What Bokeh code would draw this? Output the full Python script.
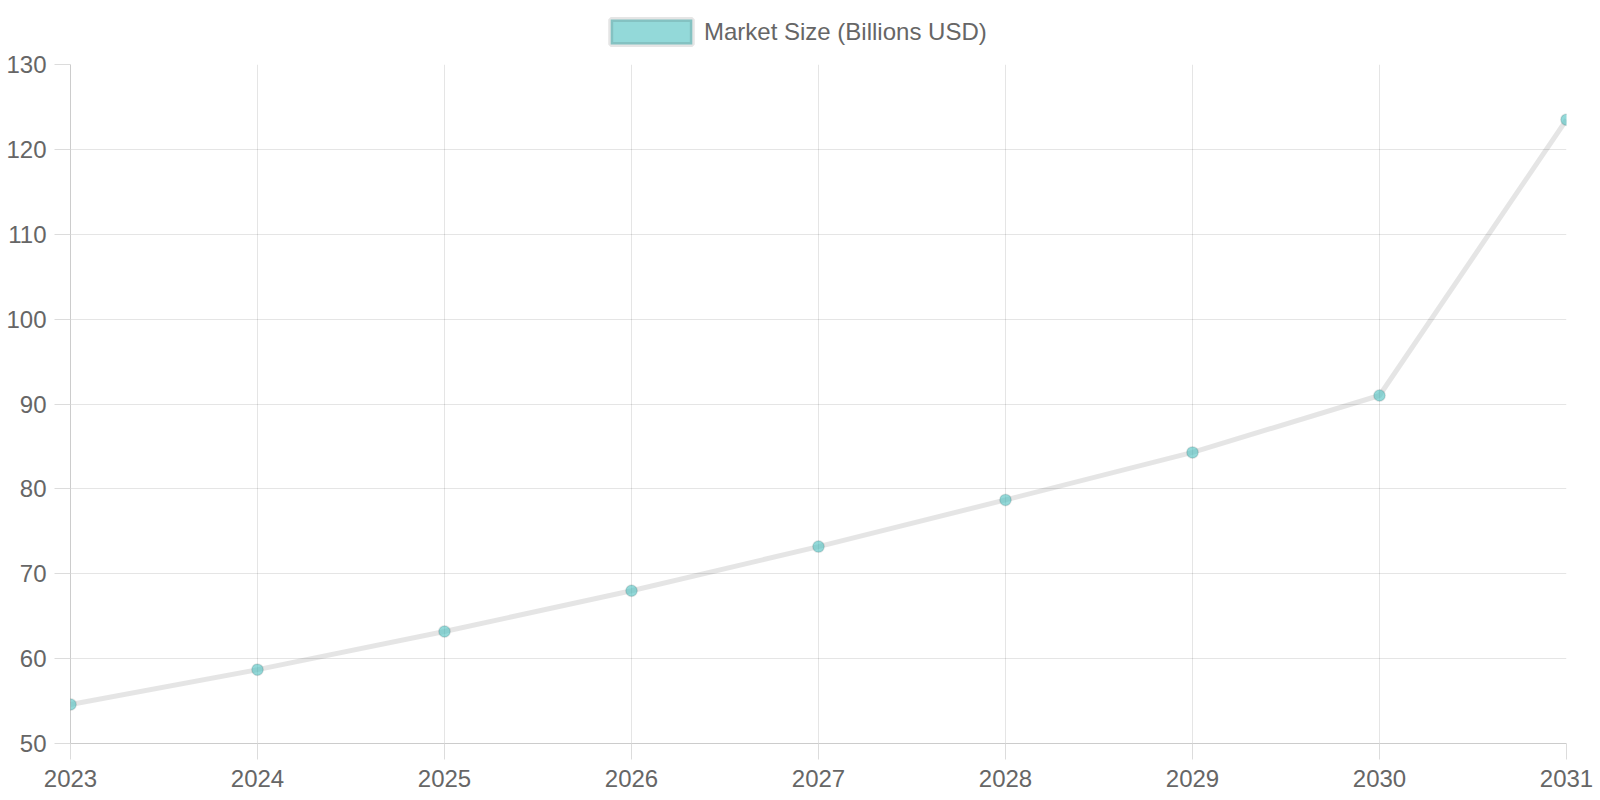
from bokeh.plotting import figure
from bokeh.layouts import column
from bokeh.models import Range1d, FixedTicker, Legend, LegendItem
from bokeh.embed import file_html
from bokeh.resources import INLINE

# Market size forecast
years = [2023, 2024, 2025, 2026, 2027, 2028, 2029, 2030, 2031]
market_size = [54.6, 58.7, 63.2, 68.0, 73.2, 78.7, 84.3, 91.0, 123.5]
y_ticks = [50, 60, 70, 80, 90, 100, 110, 120, 130]
series_label = "Market Size (Billions USD)"

TEAL = (75, 192, 192)
TEXT = "#666666"
FONT = "Liberation Sans"

# --- strip on top that only carries the legend ---
head = figure(width=1600, height=50, min_border=0,
              x_axis_location=None, y_axis_location=None,
              output_backend="svg", toolbar_location=None)
head.grid.visible = False
head.outline_line_color = None

# legend swatch: box filled teal, stroked with the line colour (never drawn itself)
swatch = head.quad(left=years, right=years, top=market_size, bottom=market_size,
                   fill_color=TEAL, fill_alpha=0.6,
                   line_color="black", line_alpha=0.1, line_width=5, visible=False)

legend = Legend(items=[LegendItem(label=series_label, renderers=[swatch])],
                location=(530, 3), orientation="horizontal",
                padding=0, margin=0, spacing=0,
                glyph_width=102, glyph_height=31, label_height=31, label_standoff=2,
                label_text_font=FONT, label_text_font_size="24px", label_text_color=TEXT,
                border_line_color=None, background_fill_alpha=0)
head.add_layout(legend, "center")

# --- the line chart ---
p = figure(
    width=1600, height=750,
    min_border_left=70, min_border_right=34,
    min_border_top=14, min_border_bottom=57,
    x_range=Range1d(years[0], years[-1]),
    y_range=Range1d(y_ticks[0], y_ticks[-1]),
    output_backend="svg", toolbar_location=None)

p.outline_line_color = None
p.background_fill_color = "white"
p.border_fill_color = "white"

# grid like chart.js: faint black lines
p.grid.grid_line_color = "black"
p.grid.grid_line_alpha = 0.1
p.xaxis.ticker = FixedTicker(ticks=years)
p.yaxis.ticker = FixedTicker(ticks=y_ticks)

for ax in (p.xaxis, p.yaxis):
    ax.axis_line_color = "black"
    ax.axis_line_alpha = 0.2
    ax.major_tick_in = 0
    ax.major_tick_out = 16
    ax.major_tick_line_color = "#dcdcdc"
    ax.minor_tick_line_color = None
    ax.major_label_text_font = FONT
    ax.major_label_text_font_size = "24px"
    ax.major_label_text_color = TEXT
p.xaxis.major_label_standoff = 10
p.yaxis.major_label_standoff = 8

p.line(years, market_size, line_color="black", line_alpha=0.1, line_width=5)
p.scatter(years, market_size, size=11.5, fill_color=TEAL, fill_alpha=0.6,
          line_color="black", line_alpha=0.1, line_width=1.5)

page = column(head, p, spacing=0)

open("out.html", "w").write(file_html(page, INLINE))
